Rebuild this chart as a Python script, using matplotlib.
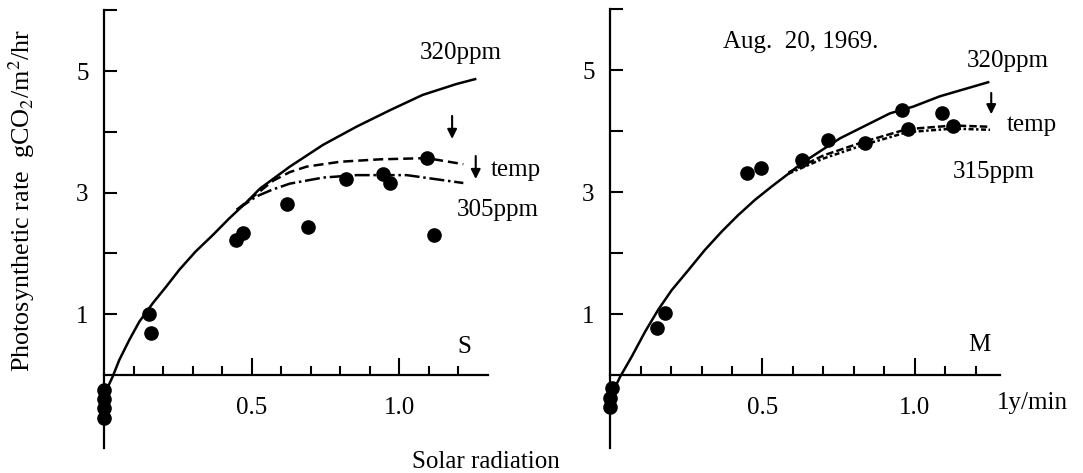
import numpy as np
import matplotlib.pyplot as plt
from matplotlib.ticker import FixedLocator

plt.rcParams['font.family'] = ['Liberation Serif', 'DejaVu Serif']
plt.rcParams['mathtext.fontset'] = 'stix'

# ---- left panel (S) ----
s_x = [0.154, 0.16, 0.447, 0.47, 0.62, 0.69, 0.82, 0.946, 0.97, 1.095, 1.12,
       0.0, 0.0, 0.0, 0.0]
s_y = [1.01, 0.69, 2.22, 2.33, 2.81, 2.43, 3.23, 3.31, 3.16, 3.58, 2.30,
       -0.25, -0.40, -0.55, -0.70]

s_320_x = [0.008, 0.029, 0.052, 0.086, 0.12, 0.165, 0.21, 0.255, 0.31, 0.368,
           0.425, 0.48, 0.529, 0.63, 0.743, 0.857, 0.97, 1.08, 1.195, 1.258]
s_320_y = [-0.25, -0.03, 0.25, 0.58, 0.88, 1.18, 1.45, 1.73, 2.03, 2.30,
           2.58, 2.83, 3.07, 3.43, 3.79, 4.09, 4.36, 4.61, 4.79, 4.87]

s_temp_x = [0.45, 0.517, 0.574, 0.63, 0.687, 0.80, 0.936, 1.094, 1.218]
s_temp_y = [2.72, 2.98, 3.20, 3.34, 3.43, 3.51, 3.55, 3.57, 3.47]

s_305_x = [0.45, 0.517, 0.57, 0.63, 0.743, 0.857, 1.026, 1.218]
s_305_y = [2.72, 2.94, 3.05, 3.15, 3.25, 3.29, 3.29, 3.16]

# ---- right panel (M) ----
m_x = [0.18, 0.153, 0.448, 0.494, 0.628, 0.716, 0.836, 0.956, 0.978, 1.087, 1.126,
       0.005, 0.0, 0.0]
m_y = [1.02, 0.77, 3.32, 3.39, 3.52, 3.85, 3.80, 4.34, 4.04, 4.29, 4.08,
       -0.22, -0.38, -0.53]

m_320_x = [0.012, 0.033, 0.071, 0.115, 0.158, 0.202, 0.257, 0.311, 0.366, 0.42,
           0.475, 0.53, 0.585, 0.628, 0.754, 0.83, 0.918, 0.994, 1.082, 1.24]
m_320_y = [-0.25, -0.03, 0.30, 0.71, 1.07, 1.39, 1.72, 2.05, 2.35, 2.62,
           2.87, 3.09, 3.30, 3.47, 3.88, 4.07, 4.29, 4.40, 4.57, 4.80]

m_temp_x = [0.585, 0.70, 0.83, 0.973, 1.125, 1.246]
m_temp_y = [3.32, 3.60, 3.82, 4.03, 4.09, 4.07]

m_315_x = [0.585, 0.70, 0.83, 0.973, 1.125, 1.246]
m_315_y = [3.30, 3.55, 3.77, 3.98, 4.04, 4.02]

ytick_vals = [1, 2, 3, 4, 5, 6]
ytick_labels = ['1', '', '3', '', '5', '']
xtick_major = [0.5, 1.0]
xtick_major_labels = ['0.5', '1.0']
xtick_minor = [0.1, 0.2, 0.3, 0.4, 0.6, 0.7, 0.8, 0.9, 1.1, 1.2]

fig = plt.figure(figsize=(10.83, 4.73), dpi=100)
ax1 = fig.add_axes([0.0688, 0.0402, 0.4086, 0.9505])
ax2 = fig.add_axes([0.5351, 0.0395, 0.4224, 0.9543])

FS = 18


def setup(ax, xend):
    ax.set_xlim(-0.1, 1.4)
    ax.set_ylim(-1.3, 6.1)
    for side in ['top', 'right']:
        ax.spines[side].set_visible(False)
    ax.spines['left'].set_position(('data', 0))
    ax.spines['bottom'].set_position(('data', 0))
    ax.spines['left'].set_bounds(-1.2, 6)
    ax.spines['bottom'].set_bounds(0, xend)
    ax.spines['left'].set_linewidth(1.6)
    ax.spines['bottom'].set_linewidth(1.6)
    ax.set_yticks(ytick_vals)
    ax.set_yticklabels(ytick_labels, fontsize=FS)
    ax.set_xticks(xtick_major)
    ax.set_xticklabels(xtick_major_labels, fontsize=FS)
    ax.xaxis.set_minor_locator(FixedLocator(xtick_minor))
    ax.tick_params(axis='y', direction='in', length=9, width=1.5, pad=11)
    ax.tick_params(axis='x', which='major', direction='in', length=12, width=1.5, pad=16)
    ax.tick_params(axis='x', which='minor', direction='in', length=6.5, width=1.5)
    ax.patch.set_visible(False)


setup(ax1, 1.3)
setup(ax2, 1.28)

lw = 1.8
dot = dict(color='black', marker='o', ms=9.5, ls='none', zorder=3)

# left
ax1.plot(s_320_x, s_320_y, color='black', lw=lw)
ax1.plot(s_temp_x, s_temp_y, color='black', lw=lw, dashes=(4, 2))
ax1.plot(s_305_x, s_305_y, color='black', lw=lw, dashes=(6, 1.5, 1, 1.5))
ax1.plot(s_x, s_y, **dot)

arrow = dict(arrowstyle='-|>', color='black', lw=1.5, mutation_scale=14)
ax1.annotate('', xy=(1.18, 3.84), xytext=(1.18, 4.31), arrowprops=arrow)
ax1.annotate('', xy=(1.26, 3.18), xytext=(1.26, 3.65), arrowprops=arrow)
ax1.text(1.07, 5.3, '320ppm', fontsize=FS, va='center', ha='left')
ax1.text(1.31, 3.37, 'temp', fontsize=FS, va='center', ha='left')
ax1.text(1.197, 2.72, '305ppm', fontsize=FS, va='center', ha='left')
ax1.text(1.22, 0.46, 'S', fontsize=FS, va='center', ha='center')

# right
ax2.plot(m_320_x, m_320_y, color='black', lw=lw)
ax2.plot(m_temp_x, m_temp_y, color='black', lw=lw, dashes=(3, 1.2))
ax2.plot(m_315_x, m_315_y, color='black', lw=lw, dashes=(2, 1, 1, 1))
ax2.plot(m_x, m_y, **dot)

ax2.annotate('', xy=(1.25, 4.23), xytext=(1.25, 4.67), arrowprops=arrow)
ax2.text(1.17, 5.15, '320ppm', fontsize=FS, va='center', ha='left')
ax2.text(1.30, 4.1, 'temp', fontsize=FS, va='center', ha='left')
ax2.text(1.125, 3.33, '315ppm', fontsize=FS, va='center', ha='left')
ax2.text(1.21, 0.5, 'M', fontsize=FS, va='center', ha='center')
ax2.text(0.37, 5.46, 'Aug.  20, 1969.', fontsize=FS, va='center', ha='left')
ax2.text(1.27, -0.46, '1y/min', fontsize=FS, va='center', ha='left')

fig.text(22 / 1083, 1 - 200 / 473, 'Photosynthetic rate  gCO$_2$/m$^2$/hr',
         rotation=90, fontsize=18.8, ha='center', va='center')
fig.text(486 / 1083, 1 - 462 / 473, 'Solar radiation', fontsize=FS,
         ha='center', va='center')

fig.savefig('out.png', dpi=100)
